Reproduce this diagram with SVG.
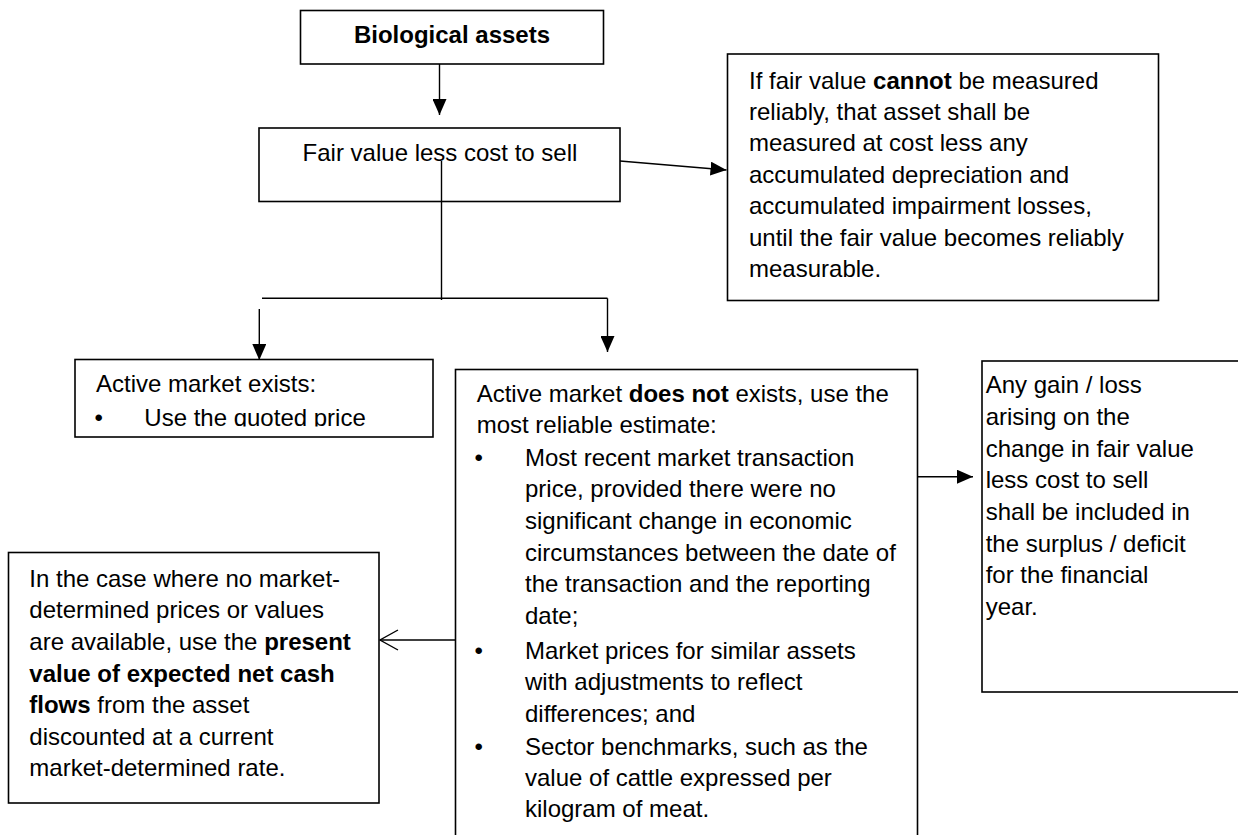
<svg xmlns="http://www.w3.org/2000/svg" width="1238" height="835" viewBox="0 0 1238 835">
<style>
.box{fill:#fff;stroke:#000;stroke-width:1.6}
.ln{fill:none;stroke:#000;stroke-width:1.4}
text{font-family:"Liberation Sans",Arial,sans-serif;font-size:24px;fill:#000}
.b{font-weight:bold}
</style>
<defs>
<marker id="ah" viewBox="0 0 10 10" refX="10" refY="5" markerWidth="16" markerHeight="14" preserveAspectRatio="none" markerUnits="userSpaceOnUse" orient="auto"><path d="M0,0 L10,5 L0,10 z" fill="#000"/></marker>
<marker id="ao" viewBox="0 0 20 22" refX="19" refY="11" markerWidth="20" markerHeight="22" markerUnits="userSpaceOnUse" orient="auto"><path d="M1,1 L19,11 L1,21" fill="none" stroke="#000" stroke-width="1.4"/></marker>
<clipPath id="clipq"><rect x="76" y="360" width="356" height="66.5"/></clipPath>
</defs>
<rect width="1238" height="835" fill="#fff"/>

<g id="bio">
<rect class="box" x="300.5" y="10.5" width="303" height="53.5"/>
<text class="b" x="452" y="42.5" text-anchor="middle">Biological assets</text>
</g>

<g id="fairvalue">
<rect class="box" x="259" y="128" width="361" height="73.5"/>
<text x="440" y="161" text-anchor="middle">Fair value less cost to sell</text>
</g>

<g id="cannot">
<rect class="box" x="727.5" y="54" width="431" height="246.5"/>
<text x="749" y="88.5">If fair value <tspan class="b">cannot</tspan> be measured</text>
<text x="749" y="119.9">reliably, that asset shall be</text>
<text x="749" y="151.3">measured at cost less any</text>
<text x="749" y="182.7">accumulated depreciation and</text>
<text x="749" y="214.1">accumulated impairment losses,</text>
<text x="749" y="245.5">until the fair value becomes reliably</text>
<text x="749" y="276.9">measurable.</text>
</g>

<g id="exists">
<rect class="box" x="75" y="359.5" width="358" height="77.5"/>
<text x="96" y="391.7">Active market exists:</text>
<g clip-path="url(#clipq)">
<text x="94.5" y="426">•</text>
<text x="144.3" y="426">Use the quoted price</text>
</g>
</g>

<g id="notexists">
<rect class="box" x="455.5" y="369.5" width="462" height="480"/>
<text x="476.7" y="401.7">Active market <tspan class="b">does not</tspan> exists, use the</text>
<text x="476.7" y="433.3">most reliable estimate:</text>
<text x="474.5" y="465.8">•</text>
<text x="525" y="465.8">Most recent market transaction</text>
<text x="525" y="497.4">price, provided there were no</text>
<text x="525" y="529">significant change in economic</text>
<text x="525" y="560.6">circumstances between the date of</text>
<text x="525" y="592.2">the transaction and the reporting</text>
<text x="525" y="623.8">date;</text>
<text x="474.5" y="658.5">•</text>
<text x="525" y="658.5">Market prices for similar assets</text>
<text x="525" y="690.1">with adjustments to reflect</text>
<text x="525" y="721.7">differences; and</text>
<text x="474.5" y="755">•</text>
<text x="525" y="755">Sector benchmarks, such as the</text>
<text x="525" y="786.3">value of cattle expressed per</text>
<text x="525" y="816.8">kilogram of meat.</text>
</g>

<g id="pv">
<rect class="box" x="8.5" y="552.5" width="370.5" height="250.5"/>
<text x="29.3" y="586.7">In the case where no market-</text>
<text x="29.3" y="618.3">determined prices or values</text>
<text x="29.3" y="649.9">are available, use the <tspan class="b">present</tspan></text>
<text x="29.3" y="681.5" class="b">value of expected net cash</text>
<text x="29.3" y="713.1"><tspan class="b">flows</tspan> from the asset</text>
<text x="29.3" y="744.7">discounted at a current</text>
<text x="29.3" y="776.3">market-determined rate.</text>
</g>

<g id="gainloss">
<rect class="box" x="982" y="361" width="260" height="331"/>
<text x="985.7" y="393.3">Any gain / loss</text>
<text x="985.7" y="425">arising on the</text>
<text x="985.7" y="456.6">change in fair value</text>
<text x="985.7" y="488.3">less cost to sell</text>
<text x="985.7" y="520">shall be included in</text>
<text x="985.7" y="551.6">the surplus / deficit</text>
<text x="985.7" y="583.3">for the financial</text>
<text x="985.7" y="615">year.</text>
</g>

<g id="connectors">
<line class="ln" x1="439.5" y1="64" x2="439.5" y2="115" marker-end="url(#ah)"/>
<line class="ln" x1="620" y1="161" x2="726.5" y2="170" marker-end="url(#ah)"/>
<line class="ln" x1="441.5" y1="161" x2="441.5" y2="300"/>
<line class="ln" x1="262" y1="298.3" x2="607.5" y2="298.3"/>
<line class="ln" x1="259.3" y1="309" x2="259.3" y2="360" marker-end="url(#ah)"/>
<line class="ln" x1="607.5" y1="298.3" x2="607.5" y2="352" marker-end="url(#ah)"/>
<line class="ln" x1="917" y1="476.7" x2="973" y2="476.7" marker-end="url(#ah)"/>
<line class="ln" x1="455.5" y1="640" x2="380" y2="640" marker-end="url(#ao)"/>
</g>
</svg>
